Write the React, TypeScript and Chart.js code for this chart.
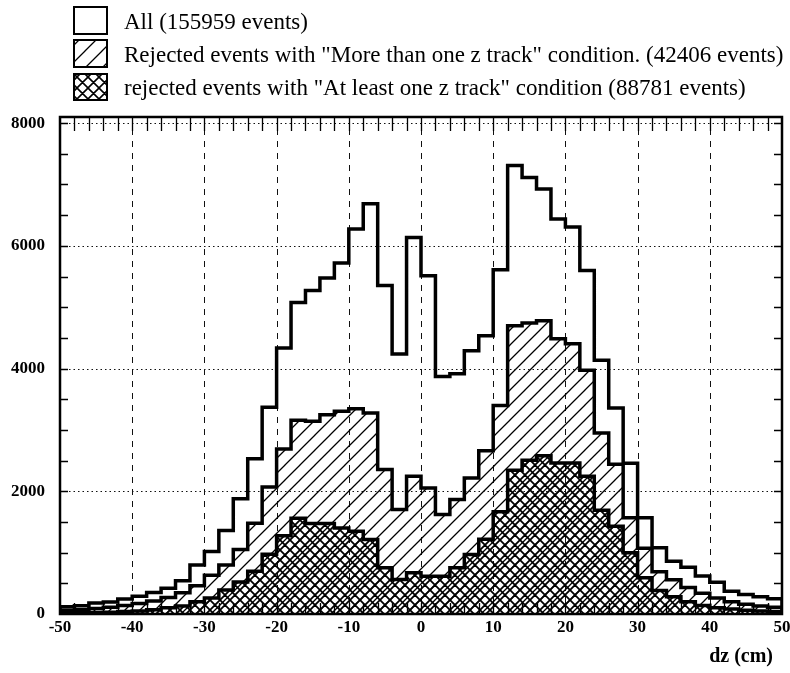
import React, { useEffect, useRef } from "react";
import { Chart, registerables } from "chart.js";

Chart.register(...registerables);

// Lower edges of the 2 cm bins (dz, cm)
const binLowEdges = [
  -50, -48, -46, -44, -42, -40, -38, -36, -34, -32,
  -30, -28, -26, -24, -22, -20, -18, -16, -14, -12,
  -10, -8, -6, -4, -2, 0, 2, 4, 6, 8,
  10, 12, 14, 16, 18, 20, 22, 24, 26, 28,
  30, 32, 34, 36, 38, 40, 42, 44, 46, 48,
];
const upperEdge = 50;

// All events (open histogram)
const allCounts = [
  120, 135, 180, 195, 245, 290, 350, 420, 540, 800,
  1020, 1360, 1880, 2530, 3370, 4335, 5078, 5274, 5475, 5720,
  6273, 6686, 5355, 4238, 6137, 5513, 3870, 3917, 4291, 4536,
  5611, 7310, 7114, 6925, 6436, 6306, 5600, 4134, 3358, 2455,
  1567, 1078, 860, 760, 620, 518, 372, 318, 280, 247,
];

// Diagonally hatched histogram
const diagonalCounts = [
  60, 70, 90, 110, 140, 170, 210, 270, 345, 460,
  630, 800, 1050, 1480, 2071, 2690, 3157, 3140, 3249, 3303,
  3347, 3277, 2353, 1702, 2244, 2055, 1620, 1865, 2218, 2660,
  3400, 4699, 4742, 4780, 4487, 4405, 3971, 2951, 2440, 1570,
  1070, 690, 560, 430, 340, 260, 200, 160, 130, 110,
];

// Cross-hatched histogram
const crossCounts = [
  15, 20, 25, 30, 40, 50, 70, 100, 130, 200,
  260, 390, 520, 697, 975, 1275, 1560, 1474, 1474, 1403,
  1349, 1213, 752, 562, 671, 616, 616, 752, 969, 1220,
  1665, 2342, 2505, 2581, 2463, 2463, 2244, 1690, 1430, 1000,
  590, 385, 280, 200, 140, 100, 80, 60, 50, 40,
];

const xTickValues = [-50, -40, -30, -20, -10, 0, 10, 20, 30, 40, 50];
const yTickValues = [0, 2000, 4000, 6000, 8000];
const xGridValues = [-40, -30, -20, -10, 0, 10, 20, 30, 40];
const yGridValues = [2000, 4000, 6000, 8000];
const xMinorTicks = [
  -48, -46, -44, -42, -40, -38, -36, -34, -32, -30, -28, -26, -24, -22, -20,
  -18, -16, -14, -12, -10, -8, -6, -4, -2, 0, 2, 4, 6, 8, 10, 12, 14, 16, 18,
  20, 22, 24, 26, 28, 30, 32, 34, 36, 38, 40, 42, 44, 46, 48,
];
const yMinorTicks = [
  500, 1000, 1500, 2000, 2500, 3000, 3500, 4000, 4500, 5000, 5500, 6000,
  6500, 7000, 7500, 8000,
];
const yMax = 8100;

const legendLabels = [
  "All (155959 events)",
  'Rejected events with "More than one z track" condition. (42406 events)',
  'rejected events with "At least one z track" condition (88781 events)',
];
const xTitle = "dz (cm)";

const SERIF = "'Liberation Serif', 'Times New Roman', serif";

function histPoints(values: number[]) {
  const pts: { x: number; y: number }[] = [{ x: binLowEdges[0], y: 0 }];
  values.forEach((v, i) => pts.push({ x: binLowEdges[i], y: v }));
  pts.push({ x: upperEdge, y: values[values.length - 1] });
  pts.push({ x: upperEdge, y: 0 });
  return pts;
}

function makePattern(period: number, width: number, cross: boolean): CanvasPattern | string {
  const c = document.createElement("canvas");
  c.width = period;
  c.height = period;
  const g = c.getContext("2d");
  if (!g) return "rgba(0,0,0,0.3)";
  g.strokeStyle = "#000";
  g.lineWidth = width;
  g.lineCap = "square";
  const p = period;
  g.beginPath();
  g.moveTo(-1, p + 1);
  g.lineTo(p + 1, -1);
  g.moveTo(-p / 2 - 1, p / 2 + 1);
  g.lineTo(p / 2 + 1, -p / 2 - 1);
  g.moveTo(p / 2 - 1, (3 * p) / 2 + 1);
  g.lineTo((3 * p) / 2 + 1, p / 2 - 1);
  if (cross) {
    g.moveTo(-1, -1);
    g.lineTo(p + 1, p + 1);
    g.moveTo(-p / 2 - 1, p / 2 - 1);
    g.lineTo(p / 2 + 1, (3 * p) / 2 + 1);
    g.moveTo(p / 2 - 1, -p / 2 - 1);
    g.lineTo((3 * p) / 2 + 1, p / 2 + 1);
  }
  g.stroke();
  const pat = g.createPattern(c, "repeat");
  return pat || "rgba(0,0,0,0.3)";
}

export default function App() {
  const ref = useRef<HTMLCanvasElement | null>(null);

  useEffect(() => {
    document.body.style.margin = "0";
    const canvas = ref.current;
    if (!canvas) return;

    const diagPat = makePattern(15, 1.3, false);
    const crossPat = makePattern(10, 1.8, true);
    const legendDiag = makePattern(17, 1.3, false);
    const legendCross = makePattern(11, 1.6, true);

    const decor = {
      id: "decor",
      beforeDatasetsDraw(chart: any) {
        const { ctx, chartArea: a, scales } = chart;
        const x = scales.x;
        const y = scales.y;
        ctx.save();
        ctx.strokeStyle = "#111";
        ctx.lineWidth = 1;
        ctx.setLineDash([1.5, 3]);
        for (const v of yGridValues) {
          const py = Math.round(y.getPixelForValue(v)) + 0.5;
          ctx.beginPath();
          ctx.moveTo(a.left, py);
          ctx.lineTo(a.right, py);
          ctx.stroke();
        }
        ctx.setLineDash([6, 6]);
        for (const v of xGridValues) {
          const px = Math.round(x.getPixelForValue(v)) + 0.5;
          ctx.beginPath();
          ctx.moveTo(px, a.top);
          ctx.lineTo(px, a.bottom);
          ctx.stroke();
        }
        ctx.restore();
      },
      afterDatasetsDraw(chart: any) {
        const { ctx, chartArea: a, scales } = chart;
        const x = scales.x;
        const y = scales.y;
        ctx.save();
        ctx.strokeStyle = "#000";
        ctx.setLineDash([]);
        ctx.lineWidth = 1.3;
        ctx.beginPath();
        for (const v of xMinorTicks) {
          const px = Math.round(x.getPixelForValue(v)) + 0.5;
          ctx.moveTo(px, a.top);
          ctx.lineTo(px, a.top + 14);
          ctx.moveTo(px, a.bottom);
          ctx.lineTo(px, a.bottom - 11);
        }
        for (const v of yMinorTicks) {
          const py = Math.round(y.getPixelForValue(v)) + 0.5;
          ctx.moveTo(a.left, py);
          ctx.lineTo(a.left + 8, py);
          ctx.moveTo(a.right, py);
          ctx.lineTo(a.right - 8, py);
        }
        ctx.stroke();
        ctx.lineWidth = 2.5;
        ctx.strokeRect(a.left, a.top, a.right - a.left, a.bottom - a.top);
        ctx.restore();
      },
      afterDraw(chart: any) {
        const { ctx } = chart;
        ctx.save();
        const boxes = [
          { y: 7, h: 27, fill: "#fff" as any },
          { y: 40, h: 27, fill: legendDiag as any },
          { y: 74, h: 26, fill: legendCross as any },
        ];
        const baselines = [29, 62, 95];
        boxes.forEach((b, i) => {
          ctx.fillStyle = "#fff";
          ctx.fillRect(74, b.y, 33, b.h);
          ctx.fillStyle = b.fill;
          ctx.fillRect(74, b.y, 33, b.h);
          ctx.lineWidth = 2;
          ctx.strokeStyle = "#000";
          ctx.strokeRect(74, b.y, 33, b.h);
          ctx.fillStyle = "#000";
          ctx.font = `23px ${SERIF}`;
          ctx.textAlign = "left";
          ctx.textBaseline = "alphabetic";
          ctx.fillText(legendLabels[i], 124, baselines[i]);
        });
        ctx.font = `bold 20px ${SERIF}`;
        ctx.textAlign = "right";
        ctx.fillText(xTitle, 773, 662);
        ctx.restore();
      },
    };

    const lineCommon = {
      stepped: true as const,
      borderColor: "#000",
      borderWidth: 3.5,
      pointRadius: 0,
      borderJoinStyle: "miter" as const,
      borderCapStyle: "butt" as const,
      tension: 0,
    };

    const chart = new Chart(canvas, {
      type: "line",
      data: {
        datasets: [
          { ...lineCommon, label: "cross", data: histPoints(crossCounts), fill: "origin", backgroundColor: crossPat as any },
          { ...lineCommon, label: "diag", data: histPoints(diagonalCounts), fill: "origin", backgroundColor: diagPat as any },
          { ...lineCommon, label: "all", data: histPoints(allCounts), fill: false, backgroundColor: "transparent" },
        ],
      },
      options: {
        animation: false,
        responsive: false,
        devicePixelRatio: 1,
        layout: { padding: { top: 117, right: 8, left: 0, bottom: 0 } },
        plugins: {
          legend: { display: false },
          tooltip: { enabled: false },
          title: { display: false },
        },
        events: [],
        scales: {
          x: {
            type: "linear",
            min: -50,
            max: 50,
            grid: { display: false, drawTicks: false },
            border: { display: false },
            afterBuildTicks: (s: any) => {
              s.ticks = xTickValues.map((v) => ({ value: v }));
            },
            afterFit: (s: any) => {
              s.height = 59;
              s.paddingLeft = 0;
              s.paddingRight = 0;
            },
            ticks: {
              autoSkip: false,
              maxRotation: 0,
              minRotation: 0,
              padding: 3,
              color: "#000",
              font: { family: SERIF, size: 17, weight: "bold" },
              callback: (v: any) => String(v),
            },
          },
          y: {
            type: "linear",
            min: 0,
            max: yMax,
            grid: { display: false, drawTicks: false },
            border: { display: false },
            afterBuildTicks: (s: any) => {
              s.ticks = yTickValues.map((v) => ({ value: v }));
            },
            afterFit: (s: any) => {
              s.width = 60;
              s.paddingTop = 0;
              s.paddingBottom = 0;
            },
            ticks: {
              autoSkip: false,
              padding: 15,
              color: "#000",
              font: { family: SERIF, size: 17, weight: "bold" },
              callback: (v: any) => String(v),
            },
          },
        },
      },
      plugins: [decor],
    });

    return () => chart.destroy();
  }, []);

  return (
    <div style={{ width: 790, height: 673, background: "#fff" }}>
      <canvas ref={ref} width={790} height={673} style={{ display: "block", width: 790, height: 673 }} />
    </div>
  );
}
